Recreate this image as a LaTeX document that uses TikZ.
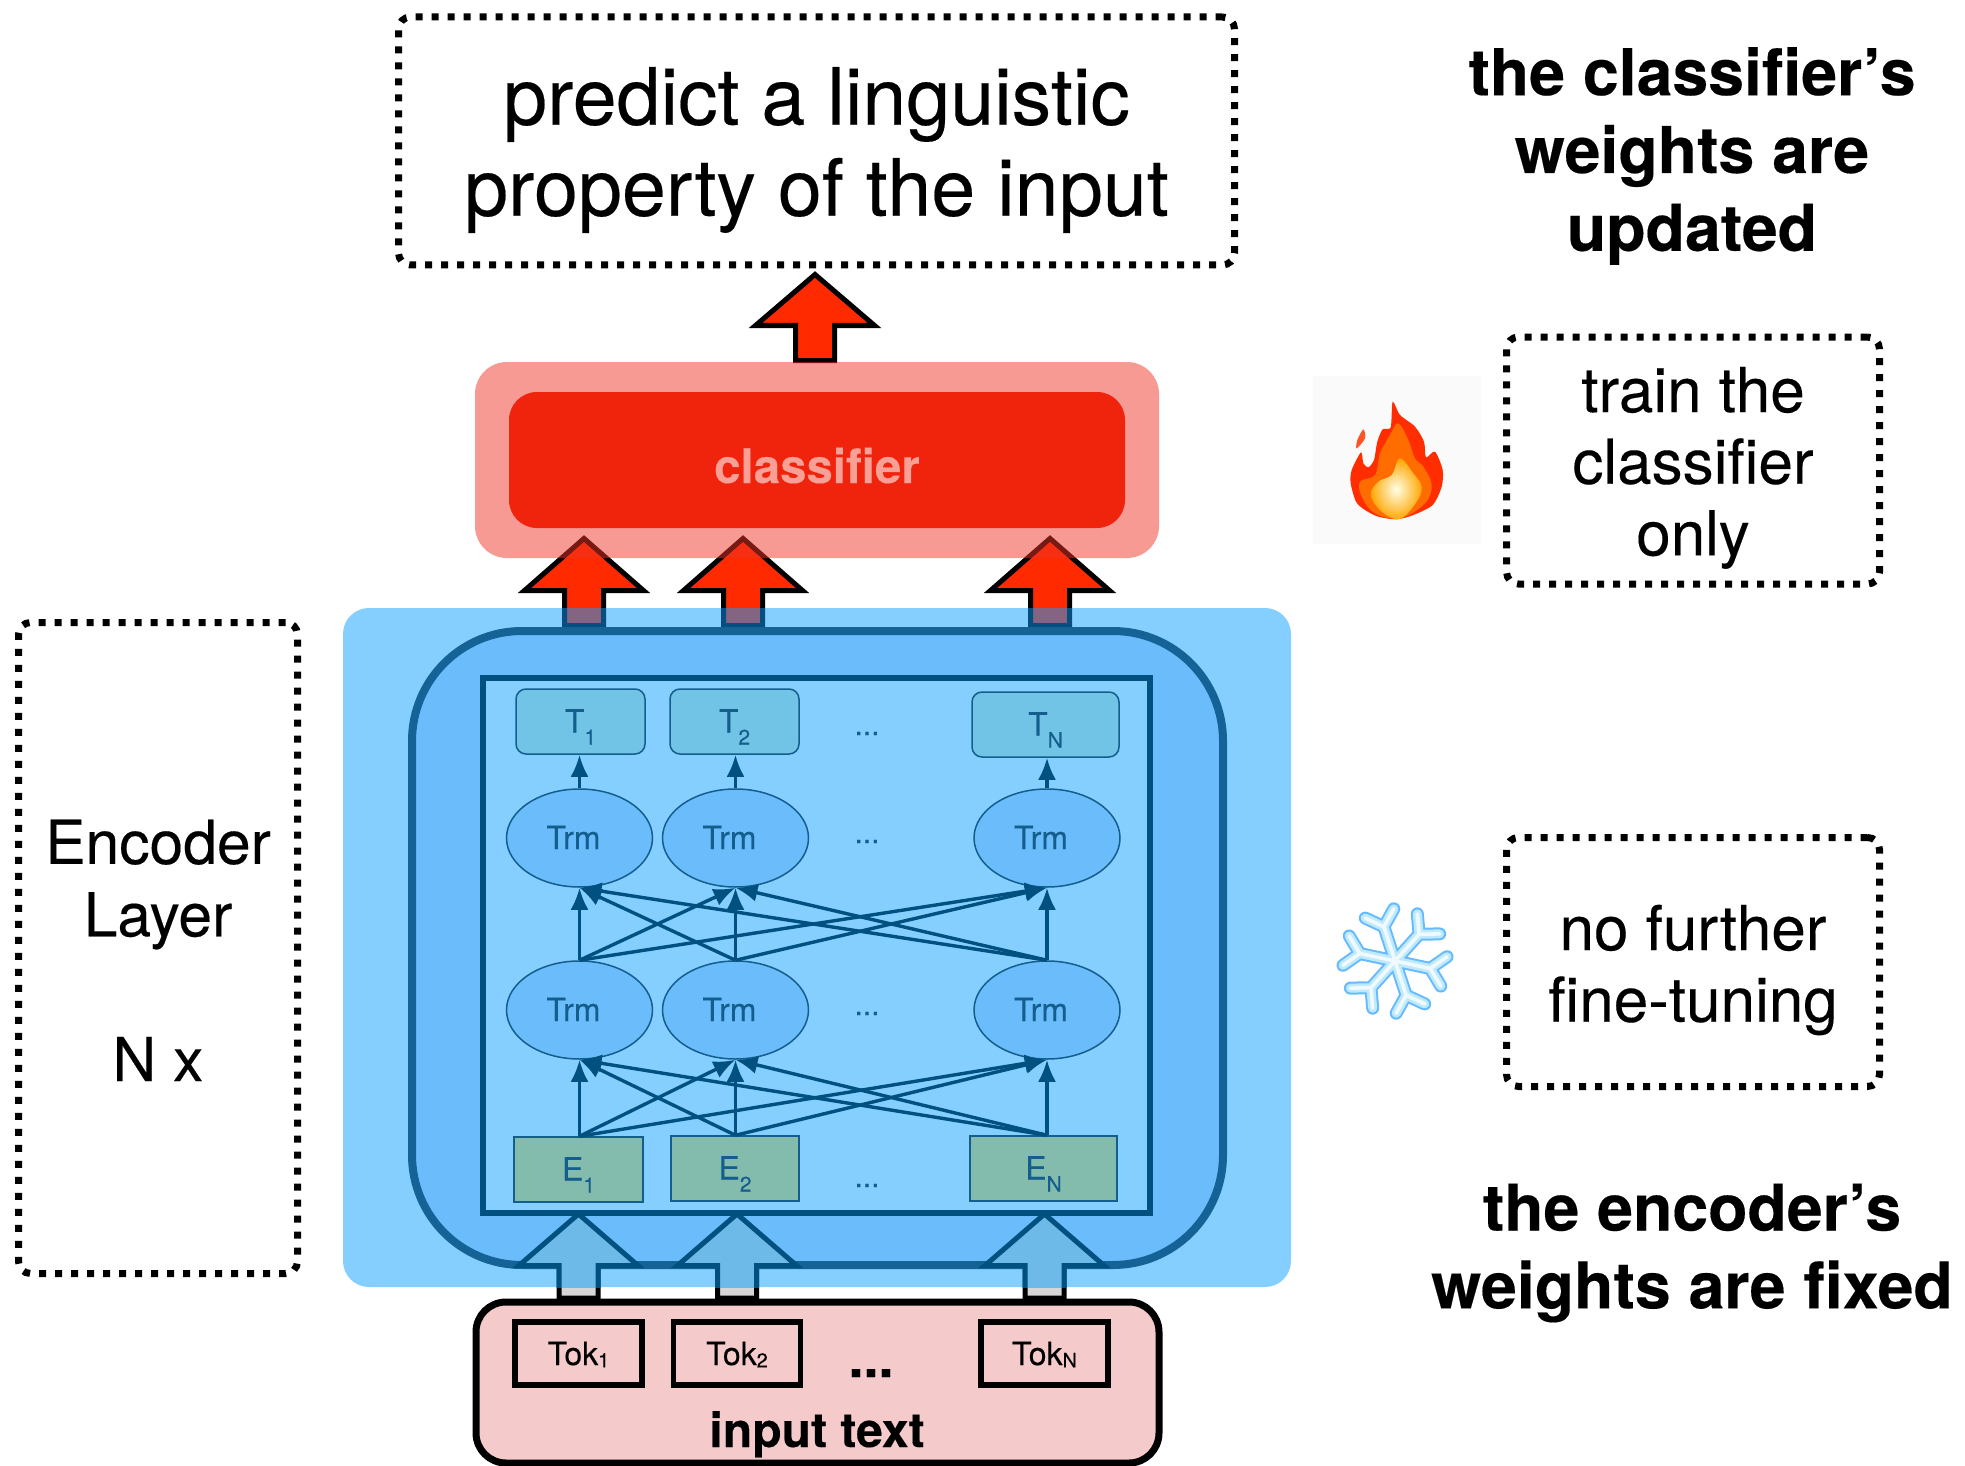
\documentclass[tikz,border=0pt]{standalone}
\usepackage{fontspec}
\setmainfont{TeX Gyre Heros}[FakeBold=0.25]
\usetikzlibrary{arrows.meta,shapes.geometric}
\definecolor{redarrow}{HTML}{FF2A00}
\definecolor{redsoft}{HTML}{EE3527}
\definecolor{redcore}{HTML}{F0230C}
\definecolor{redtext}{HTML}{F8A096}
\definecolor{bluewash}{HTML}{0A9FFF}
\definecolor{blueband}{HTML}{6BBCFA}
\definecolor{bluecell}{HTML}{84CFFF}
\definecolor{blueline}{HTML}{146296}
\definecolor{bluedeep}{HTML}{00517F}
\definecolor{bluetext}{HTML}{135E8C}
\definecolor{bluearrow}{HTML}{6DB9E8}
\definecolor{tealcell}{HTML}{72C4E6}
\definecolor{greencell}{HTML}{83BBAD}
\definecolor{pinkcell}{HTML}{F4CACB}
\newcommand{\lowsub}[1]{\raisebox{-6pt}{\fontsize{10.5}{10.5}\selectfont #1}}
\newcommand{\toksub}[1]{\raisebox{-1.2pt}{\fontsize{10}{10}\selectfont #1}}
\newcommand{\blockshape}[3]{(0,#1) -- (59.5,#2) -- (19.5,#2) -- (19.5,#3) -- (-19.5,#3) -- (-19.5,#2) -- (-59.5,#2) -- cycle}
\tikzset{
  infobox/.style={draw=black,line width=3.5pt,dash pattern=on 3.5pt off 4.5pt,rounded corners=6pt,inner sep=0pt},
  bigtext/.style={font=\fontsize{39.5}{45.5}\selectfont,align=center,inner sep=0pt},
  sidetext/.style={font=\fontsize{31}{35.8}\selectfont,align=center,inner sep=0pt},
  boldtext/.style={font=\fontsize{32.2}{38.9}\selectfont\bfseries,align=center},
  tinytext/.style={text=bluetext,font=\fontsize{16}{16}\selectfont,text height=11pt,text depth=0pt,inner sep=0pt},
  tcell/.style={tinytext,draw=bluetext,line width=.75pt,fill=tealcell,rounded corners=5pt},
  ecell/.style={tinytext,draw=bluetext,line width=.75pt,fill=greencell},
  trmcell/.style={tinytext,ellipse,draw=bluetext,line width=.75pt,fill=blueband,minimum width=73pt,minimum height=49pt},
  tokcell/.style={draw=black,line width=2.75pt,font=\fontsize{16}{16}\selectfont,text height=11.5pt,text depth=0pt,inner sep=0pt,minimum width=63.5pt,minimum height=31.5pt},
  dotstext/.style={text=bluetext,font=\fontsize{15}{15}\selectfont,anchor=base,inner sep=0pt},
  thinarrow/.style={draw=bluedeep,line width=1.7pt,-{Latex[length=11pt,width=9pt]}},
  arrowred/.style={draw=black,line width=2.5pt,fill=redarrow,miter limit=10},
  arrowgrey/.style={draw=black,line width=2.5pt,fill=black!16,miter limit=10},
  arrowblue/.style={draw=bluedeep,line width=2.5pt,fill=bluearrow,miter limit=10},
}
\begin{document}
\begin{tikzpicture}[x=0.5pt,y=-0.5pt]
\useasboundingbox (0,0) rectangle (1965,1466);
% output box and red arrows
\node[infobox,minimum width=418pt,minimum height=124pt] (output) at (816.5,141) {};
\node[bigtext] (outputlabel) at ([yshift=-4.5pt]output) {predict a linguistic\\property of the input};
\draw[shift={(815,0)},arrowred] \blockshape{274.5}{325.5}{360.5};
\foreach \x in {584,743,1050} % arrows into the classifier
\draw[shift={(\x,0)},arrowred] \blockshape{538.5}{590.5}{625.5};
% classifier
\node[fill=redsoft,fill opacity=.5,rounded corners=16pt,minimum width=342pt,minimum height=98pt,inner sep=0pt] (clsback) at (817,460) {};
\node[fill=redcore,text=redtext,rounded corners=14pt,minimum width=308pt,minimum height=68pt,inner sep=0pt,font=\fontsize{23.7}{23.7}\selectfont\bfseries,text height=23pt,text depth=0pt] (classifier) at (817,460) {classifier};
% grey arrows below the encoder
\foreach \x in {578.5,737,1044.5}
\draw[shift={(\x,0)},arrowgrey] \blockshape{1214}{1265.5}{1298};
% encoder layer
\node[fill=bluewash,fill opacity=.5,rounded corners=13pt,minimum width=474pt,minimum height=339.5pt,inner sep=0pt] (encback) at (817,947.5) {};
\node[draw=blueline,line width=4pt,fill=blueband,rounded corners=55pt,minimum width=405.5pt,minimum height=317pt,inner sep=0pt] (encband) at (817.5,948) {};
\node[draw=bluedeep,line width=2.75pt,fill=bluecell,minimum width=333.5pt,minimum height=267.5pt,inner sep=0pt] (enccell) at (816.5,945.5) {};
% token cells
\node[tcell,minimum width=64.5pt,minimum height=32.5pt] (t1) at (580.5,721.5) {T\lowsub{1}};
\node[tcell,minimum width=64.5pt,minimum height=32.5pt] (t2) at (734.5,721.5) {T\lowsub{2}};
\node[tcell,minimum width=73.5pt,minimum height=32.5pt] (tn) at (1045.5,724.5) {T\lowsub{N}};
\foreach \n/\x in {1/579.5,2/735.5,n/1047}{
\node[trmcell] (trmtop\n) at (\x,838) {Trm\kern6pt};
\node[trmcell] (trmlow\n) at (\x,1010) {Trm\kern6pt};
}
\node[ecell,minimum width=64.5pt,minimum height=32.5pt] (e1) at (578.5,1169.5) {E\lowsub{1}};
\node[ecell,minimum width=64pt,minimum height=32.5pt] (e2) at (735,1168.5) {E\lowsub{2}};
\node[ecell,minimum width=73.5pt,minimum height=32.5pt] (en) at (1043.5,1168.5) {E\lowsub{N}};
\foreach \y in {735,843,1015,1187}
\node[dotstext] (dots\y) at (867,\y) {...};
% connectors
\foreach \a in {1,2,n}{
\draw[thinarrow] (trmtop\a.north) -- (trmtop\a.north |- t\a.south);
\coordinate (ein\a) at (trmlow\a.south |- e\a.north);
\foreach \b in {1,2,n}{
\draw[thinarrow] (trmlow\a.north) -- (trmtop\b.south);
\draw[thinarrow] (ein\a) -- (trmlow\b.south);
}
}
% arrow heads on top of the encoder
\begin{scope}
\clip (0,0) rectangle (1965,1287);
\foreach \x in {578.5,737,1044.5}
\draw[shift={(\x,0)},arrowblue] \blockshape{1214}{1265.5}{1298};
\end{scope}
% input text
\node[draw=black,line width=3.5pt,fill=pinkcell,rounded corners=15pt,minimum width=341.5pt,minimum height=80.5pt,inner sep=0pt] (input) at (817.5,1382.5) {};
\node[tokcell] (tok1) at (578.5,1353.5) {Tok\toksub{1}};
\node[tokcell] (tok2) at (737,1353.5) {Tok\toksub{2}};
\node[tokcell] (tokn) at (1044.5,1353.5) {Tok\toksub{N}};
\node[anchor=base,inner sep=0pt,font=\fontsize{27}{27}\selectfont\bfseries] (tokdots) at (871,1377) {...};
\node[anchor=base,inner sep=0pt,font=\fontsize{24}{24}\selectfont\bfseries] (inputlabel) at (817,1447) {input text};
% side boxes
\node[infobox,minimum width=139.5pt,minimum height=325.5pt] (layerbox) at (158,948) {};
\node[sidetext,font=\fontsize{30.3}{36.2}\selectfont] (layerlabel) at ([yshift=-1.2pt]layerbox) {Encoder\\Layer\\[36.2pt]N x};
\node[infobox,minimum width=186.5pt,minimum height=123.5pt] (trainbox) at (1693,460.5) {};
\node[sidetext] (trainlabel) at ([yshift=-3.7pt]trainbox) {train the\\classifier\\only};
\node[infobox,minimum width=186.5pt,minimum height=124.5pt] (fixbox) at (1693,962) {};
\node[sidetext] (fixlabel) at ([yshift=-4pt]fixbox) {no further\\fine-tuning};
\node[boldtext] (toplabel) at (1692,156) {the classifier’s\\weights are\\updated};
\node[boldtext] (lowlabel) at (1692,1253) {the encoder’s\\weights are fixed};
% flame
\fill[black!2] (1313,376) rectangle (1481,544);
\begin{scope}[shift={(1300,370)},x=0.16667pt,y=-0.16667pt]
\fill[orange!40!red!85!white] plot[smooth cycle,tension=.5] coordinates {(190,178) (195,205) (170,235) (172,210)};
\fill[red!65!orange] plot[smooth cycle,tension=.45] coordinates {(278,95) (300,135) (345,170) (372,215) (378,262) (405,245) (428,300) (425,350) (398,405) (340,435) (290,448) (235,440) (195,420) (168,395) (152,340) (155,300) (183,247) (190,280) (205,292) (222,270) (232,215) (248,178) (272,172)};
\fill[orange!85!red] plot[smooth cycle,tension=.6] coordinates {(295,160) (325,210) (345,265) (370,290) (395,345) (375,400) (300,445) (225,430) (185,380) (180,335) (225,315) (240,250) (270,195)};
\shade[inner color=yellow!10!white,middle color=yellow!85!orange,outer color=orange!70!yellow] plot[smooth cycle,tension=.6] coordinates {(300,265) (340,310) (365,350) (350,395) (300,447) (245,425) (212,375) (235,335) (275,315)};
\end{scope}
% snowflake
\foreach \w/\c in {6.5/blue!45!cyan!60!white,4.5/cyan!25!white,1.8/cyan!6!white}
\foreach \r in {-12,48,...,288}
\draw[shift={(1395,961)},rotate=\r,line width=\w pt,draw=\c,line cap=round,line join=round] (0,0) -- (36,0) (50,-15) -- (36,0) -- (50,15);
\end{tikzpicture}
\end{document}
